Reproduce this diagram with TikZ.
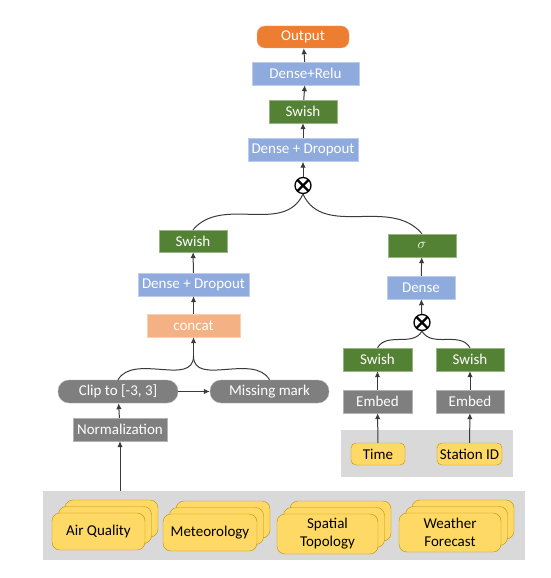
\documentclass[tikz,border=0pt]{standalone}
\usepackage{fontspec}
\setmainfont{Carlito}
\usepackage{tikz}
\usetikzlibrary{arrows.meta}
\definecolor{outorange}{HTML}{ED7D31}
\definecolor{denseblue}{HTML}{8FAADC}
\definecolor{swishgreen}{HTML}{548235}
\definecolor{concatpeach}{HTML}{F4B183}
\definecolor{opgray}{HTML}{7F7F7F}
\definecolor{docyellow}{HTML}{FFD966}
\definecolor{docedge}{HTML}{BF9000}
\definecolor{bggray}{HTML}{D9D9D9}
\definecolor{linegray}{HTML}{3A3A3A}

\begin{document}
\begin{tikzpicture}[x=1pt,y=-1pt,
    box/.style={rectangle, inner sep=0pt, minimum height=23pt, text=white,
      font=\fontsize{15}{17}\selectfont},
    outbox/.style={box, fill=outorange, draw=outorange!70!white, rounded corners=8pt},
    densebox/.style={box, fill=denseblue, draw=denseblue!60!white},
    swishbox/.style={box, fill=swishgreen, draw=swishgreen!60!white},
    concatbox/.style={box, fill=concatpeach, draw=concatpeach!60!white},
    graybox/.style={box, fill=opgray, draw=opgray!60!white},
    pillbox/.style={box, fill=opgray, draw=opgray!60!white, rounded corners=11pt},
    inbox/.style={box, fill=docyellow, draw=docedge, text=black, rounded corners=5pt},
    docback/.style={fill=docyellow, draw=docedge, rounded corners=8pt},
    doc/.style={docback, inner sep=0pt, align=center, font=\fontsize{15}{18}\selectfont},
    otimes/.style={circle, draw=black, line width=1.3pt, fill=white, minimum size=16pt,
      inner sep=0pt, path picture={
        \draw[line width=2.4pt] (path picture bounding box.north west) -- (path picture bounding box.south east);
        \draw[line width=2.4pt] (path picture bounding box.north east) -- (path picture bounding box.south west);}},
    arr/.style={draw=linegray, line width=1pt, -{Latex[length=6pt,width=5.5pt]}},
    link/.style={draw=linegray, line width=1pt}]

\useasboundingbox (0,0) rectangle (550,578);

% input backgrounds
\fill[bggray] (43,491) rectangle (525,560);
\fill[bggray] (341,430) rectangle (513,477);

% stacked inputs
\foreach \cx/\cy/\w/\h in {98.5/531.5/93/37, 210/532.5/94/37, 327.5/534/101/40, 450/532.5/102/39}{
  \foreach \k in {2,1}
    \draw[docback] (\cx-\w/2+6.5*\k,\cy-\h/2-6.5*\k) rectangle ++(\w,\h);
}
\node[doc, minimum width=93pt, minimum height=37pt] (aq) at (98.5,531.5) {Air Quality};
\node[doc, minimum width=94pt, minimum height=37pt] (met) at (210,532.5) {Meteorology};
\node[doc, minimum width=101pt, minimum height=40pt] (spa) at (327.5,534) {Spatial\\Topology};
\node[doc, minimum width=102pt, minimum height=39pt] (wea) at (450,532.5) {Weather\\Forecast};

% top part
\node[outbox, minimum width=92pt, minimum height=22pt] (out) at (303,37) {Output};
\node[densebox, minimum width=107pt] (relu) at (305.5,73.5) {Dense+Relu};
\node[swishbox, minimum width=68pt] (swT) at (303,111.5) {Swish};
\node[densebox, minimum width=110pt] (ddT) at (303,150) {Dense + Dropout};
\node[otimes] (oT) at (303,185.5) {};

% left branch
\node[swishbox, minimum width=68pt, minimum height=22pt] (swL) at (193,241) {Swish};
\node[densebox, minimum width=111pt] (ddL) at (193.5,284.5) {Dense + Dropout};
\node[concatbox, minimum width=93pt] (cat) at (193.5,325.5) {concat};
\coordinate (merge) at (193.5,356);
\node[pillbox, minimum width=120pt] (clip) at (118,391.5) {Clip to [-3, 3]};
\node[pillbox, minimum width=119pt] (miss) at (269.5,391.5) {Missing mark};
\node[graybox, minimum width=94pt] (norm) at (120,429.5) {Normalization};
\coordinate (intop) at (120,491);

% right branch
\node[swishbox, minimum width=68pt] (sig) at (422,245.5) {$\sigma$};
\node[densebox, minimum width=68pt] (dense) at (421,287.5) {Dense};
\node[otimes] (oR) at (422,322.5) {};
\node[swishbox, minimum width=69pt] (swA) at (377.5,359.5) {Swish};
\node[swishbox, minimum width=68pt] (swB) at (470,359.5) {Swish};
\node[graybox, minimum width=69pt] (embA) at (377.5,401.5) {Embed};
\node[graybox, minimum width=68pt] (embB) at (470,401.5) {Embed};
\node[inbox, minimum width=54pt, minimum height=22pt] (time) at (378,454) {Time};
\node[inbox, minimum width=65pt, minimum height=22pt] (sid) at (469.5,454) {Station ID};

% connectors
\draw[arr] (relu) -- (out);
\draw[arr] (swT) -- (relu);
\draw[arr] (ddT) -- (swT);
\draw[arr] (oT) -- (ddT);
\draw[link] (oT.south) to[out=-115,in=50] (swL.north);
\draw[link] (oT.south) to[out=-65,in=130] (sig.north);
\draw[arr] (ddL) -- (swL);
\draw[arr] (cat) -- (ddL);
\draw[arr] (merge) -- (cat.south);
\draw[link] (clip.north) to[out=60,in=-90] (merge);
\draw[link] (miss.north) to[out=120,in=-90] (merge);
\draw[arr] (clip) -- (miss);
\draw[arr] (norm) -- (clip);
\draw[arr] (intop) -- (norm);
\draw[arr] (dense) -- (sig);
\draw[arr] (oR) -- (dense);
\draw[link] (oR.south) to[out=-120,in=60] (swA.north);
\draw[link] (oR.south) to[out=-60,in=120] (swB.north);
\draw[arr] (embA) -- (swA);
\draw[arr] (embB) -- (swB);
\draw[arr] (time) -- (embA);
\draw[arr] (sid) -- (embB);
\end{tikzpicture}
\end{document}
